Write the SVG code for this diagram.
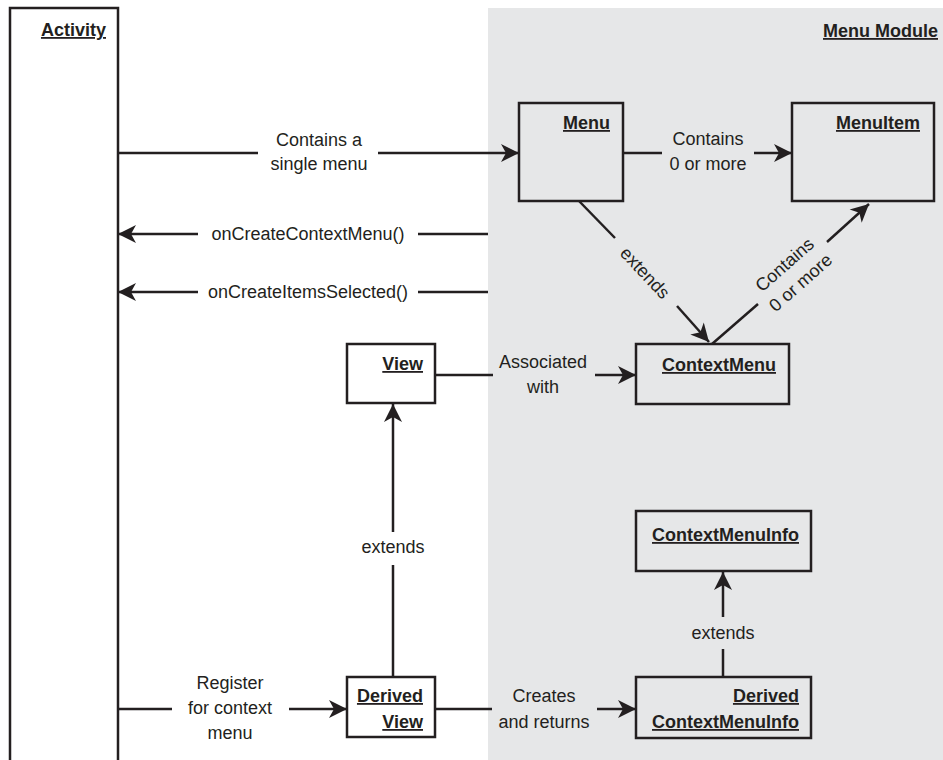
<svg xmlns="http://www.w3.org/2000/svg" width="943" height="760" viewBox="0 0 943 760">
<style>
text{font-family:"Liberation Sans",Arial,sans-serif;font-size:18px;fill:#231f20}
.t{font-weight:bold;text-anchor:end;text-decoration:underline}
.l{text-anchor:middle}
.box{fill:none;stroke:#231f20;stroke-width:2.5}
.wbox{fill:#ffffff;stroke:#231f20;stroke-width:2.5}
.gbox{fill:#e6e7e8;stroke:#231f20;stroke-width:2.5}
.c line{stroke:#231f20;stroke-width:2.5}
.a{marker-end:url(#ah)}
</style>
<defs>
<marker id="ah" markerUnits="userSpaceOnUse" viewBox="-1 -10 20 20" markerWidth="20" markerHeight="20" refX="18" refY="0" orient="auto">
<path d="M0,-9 L18,0 L0,9 L5,0 z" fill="#231f20"/>
</marker>
</defs>
<rect x="0" y="0" width="943" height="760" fill="#ffffff"/>
<g id="menu-module">
<rect x="488" y="8" width="455" height="752" fill="#e6e7e8"/>
<text class="t" x="938" y="37">Menu Module</text>
</g>
<g id="activity">
<path d="M10,765 V8 H118 V765" class="box"/>
<text class="t" x="106" y="36">Activity</text>
</g>
<g id="menu">
<rect x="519" y="103" width="104" height="98" class="gbox"/>
<text class="t" x="610" y="129">Menu</text>
</g>
<g id="menuitem">
<rect x="792" y="103" width="142" height="98" class="gbox"/>
<text class="t" x="920" y="129">MenuItem</text>
</g>
<g id="view">
<rect x="347" y="344" width="88" height="59" class="wbox"/>
<text class="t" x="423" y="370">View</text>
</g>
<g id="contextmenu">
<rect x="636" y="344" width="153" height="60" class="gbox"/>
<text class="t" x="776" y="371">ContextMenu</text>
</g>
<g id="contextmenuinfo">
<rect x="636" y="511" width="175" height="60" class="gbox"/>
<text class="t" x="799" y="541">ContextMenuInfo</text>
</g>
<g id="derived-view">
<rect x="347" y="677" width="88" height="60" class="wbox"/>
<text class="t" x="423" y="702">Derived</text>
<text class="t" x="423" y="728">View</text>
</g>
<g id="derived-contextmenuinfo">
<rect x="636" y="677" width="175" height="61" class="gbox"/>
<text class="t" x="799" y="702">Derived</text>
<text class="t" x="799" y="728">ContextMenuInfo</text>
</g>
<g id="connectors" class="c">
<line x1="118" y1="153" x2="258" y2="153"/>
<line x1="378" y1="153" x2="519" y2="153" class="a"/>
<text class="l" x="319" y="146">Contains a</text>
<text class="l" x="319" y="170">single menu</text>

<line x1="623" y1="153" x2="662" y2="153"/>
<line x1="754" y1="153" x2="792" y2="153" class="a"/>
<text class="l" x="708" y="145">Contains</text>
<text class="l" x="708" y="170">0 or more</text>

<line x1="488" y1="234" x2="418" y2="234"/>
<line x1="198" y1="234" x2="118" y2="234" class="a"/>
<text class="l" x="308" y="240">onCreateContextMenu()</text>

<line x1="488" y1="292" x2="418" y2="292"/>
<line x1="198" y1="292" x2="118" y2="292" class="a"/>
<text class="l" x="308" y="298">onCreateItemsSelected()</text>

<line x1="579" y1="201" x2="615" y2="238"/>
<line x1="677" y1="306" x2="709" y2="342" class="a"/>
<text class="l" transform="translate(645,273) rotate(47)" x="0" y="6">extends</text>

<line x1="712" y1="344" x2="758" y2="304"/>
<line x1="827" y1="242" x2="869" y2="204" class="a"/>
<g transform="translate(792,273) rotate(-41.5)">
<text class="l" x="0" y="-5">Contains</text>
<text class="l" x="0" y="19">0 or more</text>
</g>

<line x1="435" y1="375" x2="493" y2="375"/>
<line x1="595" y1="375" x2="636" y2="375" class="a"/>
<text class="l" x="543" y="368">Associated</text>
<text class="l" x="543" y="393">with</text>

<line x1="393" y1="677" x2="393" y2="565"/>
<line x1="393" y1="532" x2="393" y2="404" class="a"/>
<text class="l" x="393" y="553">extends</text>

<line x1="118" y1="709" x2="172" y2="709"/>
<line x1="289" y1="709" x2="347" y2="709" class="a"/>
<text class="l" x="230" y="689">Register</text>
<text class="l" x="230" y="714">for context</text>
<text class="l" x="230" y="739">menu</text>

<line x1="435" y1="709" x2="492" y2="709"/>
<line x1="597" y1="709" x2="636" y2="709" class="a"/>
<text class="l" x="544" y="702">Creates</text>
<text class="l" x="544" y="728">and returns</text>

<line x1="723" y1="677" x2="723" y2="649"/>
<line x1="723" y1="617" x2="723" y2="572" class="a"/>
<text class="l" x="723" y="639">extends</text>
</g>
</svg>
